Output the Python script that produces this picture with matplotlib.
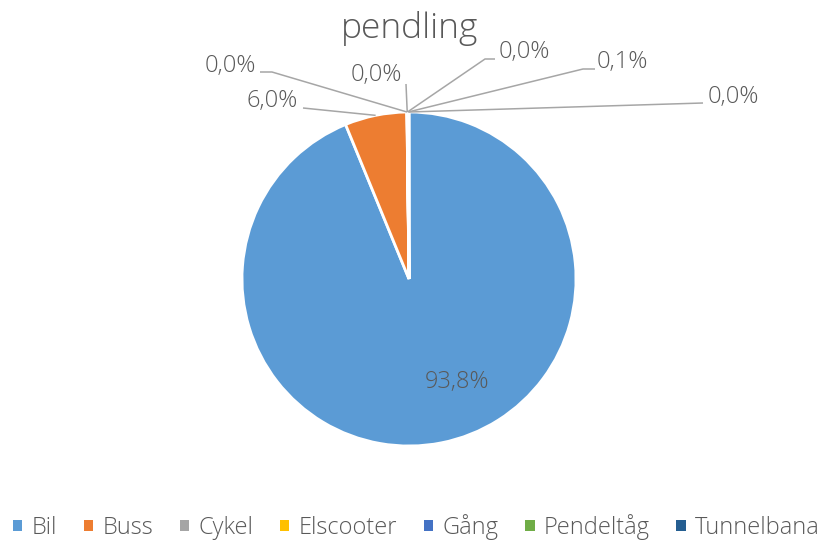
import matplotlib.pyplot as plt
from matplotlib.patches import Patch
import numpy as np

categories = ['Bil', 'Buss', 'Cykel', 'Elscooter', 'Gång', 'Pendeltåg', 'Tunnelbana']
values = [93.8, 6.0, 0.02, 0.02, 0.03, 0.1, 0.03]
colors = ['#5B9BD5', '#ED7D31', '#A5A5A5', '#FFC000', '#4472C4', '#70AD47', '#255E91']
title = 'pendling'

# ---- layout (pixel coordinates of the 822x543 canvas, y from top) ----
W, H = 822, 543
cx, cy, R = 409, 279, 167
label_pos = [(457, 382), (272, 101), (230, 66), (376, 75), (524, 52), (622, 62), (733, 97)]
leader_pts = [None,
              [(303, 108)],
              [(260, 72), (272, 72)],
              [(406, 84)],
              [(495, 59), (485, 59)],
              [(595, 69), (583, 69)],
              [(703, 103)]]

TXT = '#595959'
LINE = '#A6A6A6'
FONT = 'Open Sans'
FS = 17

fig = plt.figure(figsize=(W / 100, H / 100), dpi=100)
ax = fig.add_axes([0, 0, 1, 1])

wedges, _ = ax.pie(values, colors=colors, startangle=90, counterclock=False,
                   center=(cx, H - cy), radius=R,
                   wedgeprops=dict(edgecolor='white', linewidth=2.0))
ax.set_xlim(0, W)
ax.set_ylim(0, H)
ax.set_aspect('equal', adjustable='box')
ax.axis('off')

total = sum(values)
for i, (w, v) in enumerate(zip(wedges, values)):
    pct = 100 * v / total
    txt = f'{pct:.1f}%'.replace('.', ',')
    lx, ly = label_pos[i]
    ax.text(lx, H - ly, txt, ha='center', va='center', fontsize=FS,
            color=TXT, family=FONT, fontweight='light')
    if leader_pts[i] is not None:
        mid = np.deg2rad((w.theta1 + w.theta2) / 2)
        rx = cx + R * np.cos(mid)
        ry = (H - cy) + R * np.sin(mid)
        xs = [p[0] for p in leader_pts[i]] + [rx]
        ys = [H - p[1] for p in leader_pts[i]] + [ry]
        ax.plot(xs, ys, color=LINE, lw=1.1, solid_capstyle='butt')

fig.text(409.5 / W, 1 - 28 / H, title, ha='center', va='center', fontsize=25.5,
         color=TXT, family=FONT, fontweight='light')

handles = [Patch(facecolor=c, edgecolor='none') for c in colors]
fig.legend(handles, categories, loc='center', bbox_to_anchor=(416.5 / W, 1 - 527 / H),
           ncol=7, frameon=False, handlelength=0.4, handleheight=0.4,
           handletextpad=0.4, columnspacing=1.12, borderpad=0, borderaxespad=0,
           prop=dict(family=FONT, size=FS, weight='light'), labelcolor=TXT)

fig.savefig('out.png', dpi=100)
